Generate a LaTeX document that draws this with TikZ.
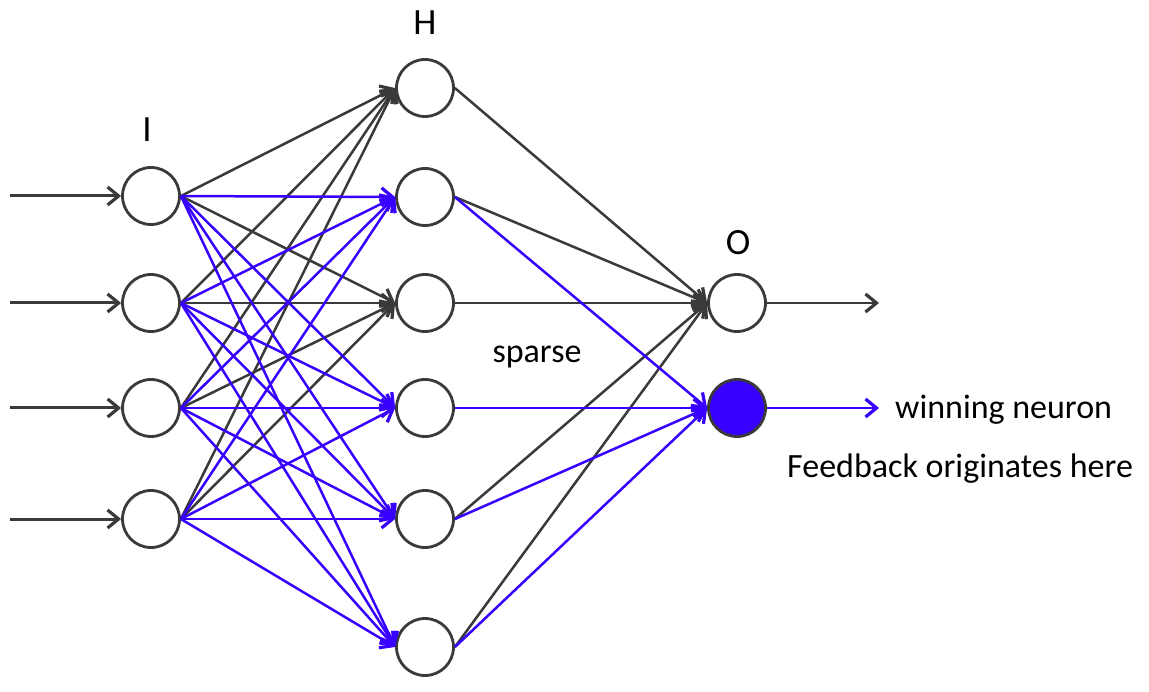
\documentclass[tikz,border=0pt]{standalone}
\usepackage{fontspec}
\setmainfont{Carlito}
\usetikzlibrary{arrows.meta}
\definecolor{dk}{RGB}{58,58,58}
\definecolor{bl}{RGB}{55,0,255}
\begin{document}
\begin{tikzpicture}[x=1pt,y=-1pt,
  neuron/.style={circle,draw=dk,line width=2.8pt,minimum size=57pt,inner sep=0pt,fill=white},
  win/.style={neuron,fill=bl},
  tip/.style={-{Straight Barb[length=11pt,width=18pt,line width=3.2pt]}},
  bk/.style={tip,draw=dk,line width=2.5pt},
  bu/.style={tip,draw=bl,line width=2.5pt},
  inarr/.style={tip,draw=dk,line width=3pt},
  lbl/.style={font=\fontsize{37}{44}\selectfont,text=black,inner sep=0pt},
  txt/.style={font=\fontsize{34}{40}\selectfont,text=black,inner sep=0pt}]
\fill[white] (0,0) rectangle (1149,692);
\useasboundingbox (0,0) rectangle (1149,692);
% input layer
\foreach \n/\y in {1/196,2/303,3/408,4/519}{
  \node[neuron] (i\n) at (151,\y) {};
  \coordinate (s\n) at (10,\y);
}
% hidden layer
\foreach \n/\y in {1/88,2/197,3/303,4/408,5/519,6/647}{
  \node[neuron] (h\n) at (425,\y) {};
}
% output layer
\node[neuron] (o1) at (737,303) {};
\node[win] (o2) at (737,408) {};
\coordinate (e1) at (879,303);
\coordinate (e2) at (879,408);
% labels
\node[lbl] (lI) at (147,130) {I};
\node[lbl] (lH) at (425,23) {H};
\node[lbl] (lO) at (738,243) {O};
\node[txt] (sp) at (537,357) {sparse};
\node[txt,anchor=west] (wn) at (895,410) {winning neuron};
\node[txt,anchor=west] (fb) at (787,469) {Feedback originates here};
% input arrows
\foreach \n in {1,...,4}{ \draw[inarr] (s\n) -- (i\n.west); }
% input -> hidden
\foreach \a in {1,...,4}{
  \foreach \b in {1,3}{ \draw[bk] (i\a.east) -- (h\b.west); }
}
\foreach \a in {1,...,4}{
  \foreach \b in {2,4,5,6}{ \draw[bu] (i\a.east) -- (h\b.west); }
}
% hidden -> output
\foreach \b in {1,2,3,5,6}{ \draw[bk] (h\b.east) -- (o1.west); }
\foreach \b in {2,4,5,6}{ \draw[bu] (h\b.east) -- (o2.west); }
% output arrows
\draw[bk] (o1.east) -- (e1);
\draw[bu] (o2.east) -- (e2);
\end{tikzpicture}
\end{document}
